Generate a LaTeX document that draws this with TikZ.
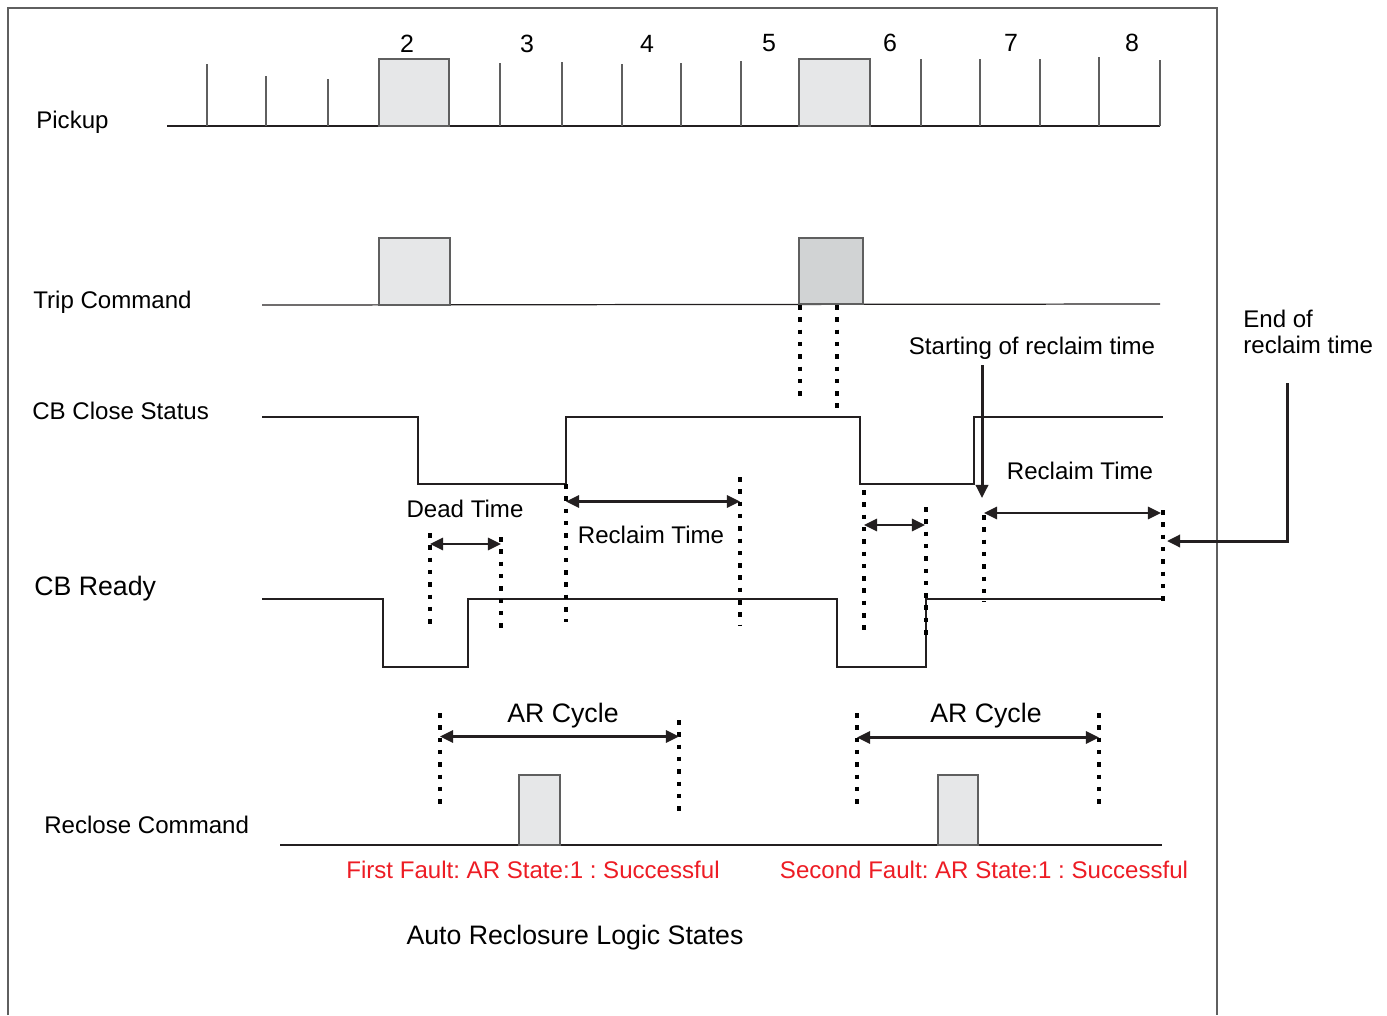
\documentclass[tikz,border=0pt]{standalone}
\usepackage{fontspec}
\setmainfont{Liberation Sans}
\usetikzlibrary{arrows.meta, positioning}
\definecolor{pulsefill}{RGB}{230,231,232}
\definecolor{tripfill}{RGB}{209,211,212}
\definecolor{waveline}{RGB}{35,31,32}
\definecolor{tickline}{RGB}{95,95,95}
\definecolor{faultred}{RGB}{237,28,36}
\tikzset{
    signal/.style={draw=waveline, line width=0.7pt},
    tickmark/.style={draw=tickline, line width=0.6pt},
    pulse/.style={draw=tickline, line width=0.65pt, fill=pulsefill},
    marker/.style={draw=black, line width=1.9pt, dash pattern=on 2.6pt off 4.4pt},
    span/.style={draw=waveline, line width=1.3pt,
        {Triangle[length=7.5pt, width=7pt]}-{Triangle[length=7.5pt, width=7pt]}},
    pointer/.style={draw=waveline, line width=1.7pt, -{Triangle[length=7.5pt, width=7pt]}},
    siglabel/.style={anchor=base west, inner sep=0pt, font=\fontsize{13.7}{16}\selectfont},
    biglabel/.style={siglabel, font=\fontsize{15.2}{18}\selectfont},
    note/.style={anchor=base, inner sep=0pt, font=\fontsize{13.7}{16}\selectfont},
    bignote/.style={note, font=\fontsize{15.2}{18}\selectfont},
    faultnote/.style={note, text=faultred}
}
\frenchspacing
\begin{document}
\begin{tikzpicture}[x=0.02cm, y=-0.02cm]
    \useasboundingbox (0,0) rectangle (1387,1015);

    % Frame
    \draw[tickmark] (8,1015) -- (8,8) -- (1217,8) -- (1217,1015);

    % Pickup
    \node[siglabel] (pickup) at (36,128) {Pickup};
    \draw[signal] (167,126) -- (1160,126);
    \foreach \x/\t in {207/64, 266/76, 328/79, 500/63, 562/62, 622/64, 681/63,
                       741/61, 921/59, 980/59, 1040/59, 1099/57, 1160/60}
        \draw[tickmark] (\x,126) -- (\x,\t);
    \draw[pulse] (379,126) rectangle (449,59);
    \draw[pulse] (799,126) rectangle (870,59);
    \foreach \n/\x/\b in {2/407/52, 3/527/52, 4/647/52, 5/769/51.5, 6/890/51.5, 7/1011/51, 8/1132/51}
        \node[note, font=\fontsize{14.2}{17}\selectfont] (num\n) at (\x,\b) {\n};

    % Trip Command
    \node[siglabel] (trip) at (33,308) {Trip Command};
    \draw[signal] (262,305) -- (1160,304);
    \draw[pulse] (379,305) rectangle (450,238);
    \draw[pulse, fill=tripfill] (799,304) rectangle (863,238);

    % CB Close Status
    \node[siglabel] (close) at (32,419) {CB Close Status};
    \draw[signal] (262,417) -- (418,417) -- (418,484) -- (566,484) -- (566,417) -- (860,417)
        -- (860,484) -- (974,484) -- (974,417) -- (1163,417);

    % CB Ready
    \node[biglabel] (ready) at (34,595) {CB Ready};
    \draw[signal] (262,599) -- (383,599) -- (383,667) -- (468,667) -- (468,599) -- (837,599)
        -- (837,667) -- (926,667) -- (926,599) -- (1162,599);

    % Reclose Command
    \node[siglabel] (reclose) at (44,833) {Reclose Command};
    \draw[signal] (280,845) -- (1162,845);
    \draw[pulse] (519,845) rectangle (560,775);
    \draw[pulse] (938,845) rectangle (978,775);

    % Dotted markers
    \foreach \x/\a/\b in {800/305/403, 837/305/410, 430/533/630, 501/537/635, 566/484/622,
                          740/477/625, 864/490/637, 926/507/640, 984/515/602, 1163/510/607,
                          440/713/811, 679/720/811, 857/713/811, 1099/713/811}
        \draw[marker] (\x,\a) -- (\x,\b);

    % Time spans
    \foreach \n/\xa/\xb/\y in {deadA/430/501/544, reclaimA/566/740/501.5, deadB/864/925/525,
                               reclaimB/984/1161/513, cycleA/440/679/736.5, cycleB/857/1099/737.5} {
        \coordinate (\n a) at (\xa,\y);
        \coordinate (\n b) at (\xb,\y);
        \draw[span] (\n a) -- (\n b);
    }
    \node[note] (deadlbl) at (465,517) {Dead Time};
    \node[note] (reclaimlblA) at (651,543) {Reclaim Time};
    \node[note] (reclaimlblB) at (1080,479) {Reclaim Time};
    \node[bignote] (cyclelblA) at (563,722) {AR Cycle};
    \node[bignote] (cyclelblB) at (986,722) {AR Cycle};

    % Reclaim pointers
    \node[note] (startlbl) at (1032,354) {Starting of reclaim time};
    \coordinate (starttail) at (982,365);
    \coordinate (starttip) at (982,498);
    \draw[pointer] (starttail) -- (starttip);
    \node[siglabel] (endlbl) at (1243,327) {End of};
    \node[siglabel] (endlblb) at (1243,353) {reclaim time};
    \coordinate (endtail) at (1287,383);
    \coordinate (endtip) at (1167,541);
    \draw[pointer] (endtail) |- (endtip);

    % Fault states
    \node[faultnote] (faultA) at (533,878) {First Fault: AR State:1 : Successful};
    \node[faultnote] (faultB) at (984,878) {Second Fault: AR State:1 : Successful};
    \node[bignote] (caption) at (575,944) {Auto Reclosure Logic States};
\end{tikzpicture}
\end{document}
